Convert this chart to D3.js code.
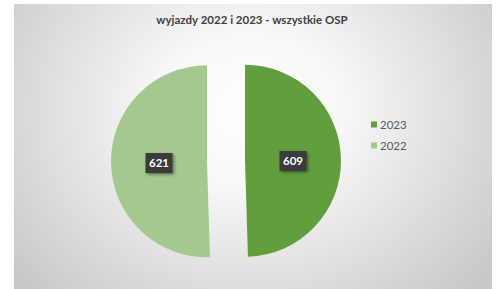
<!DOCTYPE html>
<html><head><meta charset="utf-8">
<script src="https://cdn.jsdelivr.net/npm/d3@7"></script>
<style>body{margin:0;background:#fff;} svg{display:block;}</style>
</head><body>
<script>
const title = "wyjazdy 2022 i 2023 - wszystkie OSP";
const categories = ["2023", "2022"];
const values = [609, 621];
const colors = ["#619f3d", "#a4c98e"];

const W = 499, H = 289;
const svg = d3.select("body").append("svg").attr("width", W).attr("height", H);
const defs = svg.append("defs");
const rg = defs.append("radialGradient").attr("id","bg")
  .attr("gradientUnits","userSpaceOnUse").attr("cx",250).attr("cy",110).attr("r",300)
  .attr("gradientTransform","translate(250,110) scale(1,0.85) translate(-250,-110)");
rg.append("stop").attr("offset","0%").attr("stop-color","#ffffff");
rg.append("stop").attr("offset","30%").attr("stop-color","#f8f8f8");
rg.append("stop").attr("offset","100%").attr("stop-color","#c9c9c9");
const sh = defs.append("filter").attr("id","sh").attr("x","-30%").attr("y","-30%").attr("width","170%").attr("height","170%");
sh.append("feDropShadow").attr("dx",1.5).attr("dy",1.5).attr("stdDeviation",1.5).attr("flood-color","#000").attr("flood-opacity",0.45);

svg.append("rect").attr("x",14).attr("y",4).attr("width",478).attr("height",285).attr("fill","url(#bg)");

svg.append("text").attr("x",252).attr("y",24).attr("text-anchor","middle")
  .attr("font-family","Lato, 'Open Sans', sans-serif").attr("font-weight","bold")
  .attr("font-size",11.5).attr("fill","#404040").text(title);

const cx = 226, cy = 161, R = 96, explode = 19;
const pie = d3.pie().sort(null).value(d => d)(values);
const arc = d3.arc().innerRadius(0).outerRadius(R);
const g = svg.append("g").attr("transform",`translate(${cx},${cy})`);
pie.forEach((p,i) => {
  const mid = (p.startAngle + p.endAngle)/2;
  const dx = Math.sin(mid)*explode, dy = -Math.cos(mid)*explode;
  const sg = g.append("g").attr("transform",`translate(${dx},${dy})`);
  sg.append("path").attr("d", arc(p)).attr("fill", colors[i]);
  const lx = Math.sin(mid)*R*0.5, ly = -Math.cos(mid)*R*0.5;
  const lg = sg.append("g").attr("transform",`translate(${lx},${ly+1})`);
  lg.append("rect").attr("x",-13.5).attr("y",-10).attr("width",27).attr("height",20)
    .attr("fill","#3b3b3b").attr("filter","url(#sh)");
  lg.append("text").attr("text-anchor","middle").attr("dy","0.36em")
    .attr("font-family","Lato, 'Open Sans', sans-serif").attr("font-weight","bold")
    .attr("font-size",11.5).attr("fill","#ffffff").text(values[i]);
});

const leg = svg.append("g").attr("transform","translate(371,125)");
categories.forEach((c,i) => {
  const row = leg.append("g").attr("transform",`translate(0,${i*21})`);
  row.append("rect").attr("x",0).attr("y",-3.5).attr("width",6).attr("height",6).attr("fill",colors[i]);
  row.append("text").attr("x",9).attr("dy","0.36em")
    .attr("font-family","Lato, 'Open Sans', sans-serif").attr("font-size",11.5)
    .attr("fill","#595959").text(c);
});
</script>
</body></html>
